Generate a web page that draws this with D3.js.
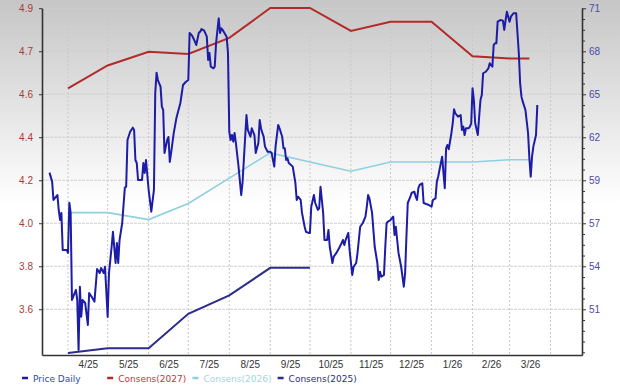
<!DOCTYPE html>
<meta charset="utf-8">
<script src="https://d3js.org/d3.v7.min.js"></script>
<style>
  body { margin: 0; }
  svg { display: block; font-family: "DejaVu Sans", Verdana, sans-serif; }
</style>
<body>
<div id="chart"></div>
<script>
// price, daily close (right axis)
var priceDaily = [
  ["2025-03-18", 59.89], ["2025-03-20", 59.29], ["2025-03-21", 58.07], ["2025-03-23", 58.29],
  ["2025-03-24", 58.40], ["2025-03-25", 57.40], ["2025-03-26", 56.74], ["2025-03-27", 57.21],
  ["2025-03-28", 54.75], ["2025-03-31", 54.75], ["2025-04-01", 54.55], ["2025-04-02", 57.89],
  ["2025-04-03", 57.21], ["2025-04-04", 51.42], ["2025-04-07", 52.09], ["2025-04-08", 51.42],
  ["2025-04-09", 48.10], ["2025-04-10", 52.30], ["2025-04-11", 50.31], ["2025-04-12", 51.42],
  ["2025-04-14", 51.22], ["2025-04-16", 49.76], ["2025-04-17", 51.88], ["2025-04-19", 51.62],
  ["2025-04-21", 51.31], ["2025-04-23", 53.48], ["2025-04-25", 53.21], ["2025-04-26", 53.55],
  ["2025-04-28", 53.21], ["2025-04-29", 53.63], ["2025-05-01", 50.29], ["2025-05-02", 53.21],
  ["2025-05-04", 54.96], ["2025-05-05", 55.96], ["2025-05-07", 53.88], ["2025-05-08", 55.21],
  ["2025-05-09", 53.88], ["2025-05-10", 55.41], ["2025-05-12", 56.54], ["2025-05-14", 58.89],
  ["2025-05-15", 58.95], ["2025-05-16", 62.06], ["2025-05-18", 62.61], ["2025-05-20", 62.88],
  ["2025-05-21", 62.73], ["2025-05-22", 60.73], ["2025-05-23", 60.53], ["2025-05-24", 59.40],
  ["2025-05-27", 59.40], ["2025-05-28", 60.53], ["2025-05-29", 59.87], ["2025-05-30", 60.73],
  ["2025-05-31", 59.73], ["2025-06-01", 58.74], ["2025-06-03", 57.29], ["2025-06-05", 58.74],
  ["2025-06-06", 65.19], ["2025-06-07", 66.54], ["2025-06-08", 66.05], ["2025-06-10", 65.61],
  ["2025-06-11", 64.28], ["2025-06-12", 64.06], ["2025-06-13", 61.20], ["2025-06-15", 62.06],
  ["2025-06-16", 62.26], ["2025-06-17", 60.60], ["2025-06-18", 61.20], ["2025-06-20", 62.53],
  ["2025-06-22", 63.52], ["2025-06-25", 64.52], ["2025-06-27", 65.72], ["2025-06-29", 65.92],
  ["2025-07-01", 66.05], ["2025-07-02", 69.18], ["2025-07-04", 68.98], ["2025-07-06", 68.60],
  ["2025-07-07", 68.38], ["2025-07-09", 69.20], ["2025-07-10", 69.26], ["2025-07-11", 69.44],
  ["2025-07-13", 69.33], ["2025-07-15", 68.93], ["2025-07-16", 67.38], ["2025-07-17", 67.85],
  ["2025-07-18", 66.94], ["2025-07-20", 66.83], ["2025-07-21", 66.94], ["2025-07-22", 68.51],
  ["2025-07-24", 70.15], ["2025-07-25", 69.18], ["2025-07-26", 69.49], ["2025-07-27", 69.38],
  ["2025-07-30", 68.93], ["2025-07-31", 67.85], ["2025-08-01", 62.61], ["2025-08-02", 62.06],
  ["2025-08-03", 62.39], ["2025-08-04", 61.95], ["2025-08-05", 62.53], ["2025-08-06", 61.86],
  ["2025-08-08", 60.29], ["2025-08-10", 58.40], ["2025-08-11", 59.20], ["2025-08-12", 60.73],
  ["2025-08-14", 63.72], ["2025-08-15", 62.73], ["2025-08-17", 62.28], ["2025-08-18", 62.84],
  ["2025-08-20", 62.39], ["2025-08-21", 61.20], ["2025-08-23", 61.86], ["2025-08-24", 63.39],
  ["2025-08-25", 62.84], ["2025-08-26", 62.53], ["2025-08-27", 62.28], ["2025-08-28", 61.62],
  ["2025-08-30", 61.28], ["2025-09-01", 61.28], ["2025-09-02", 61.20], ["2025-09-04", 60.29],
  ["2025-09-05", 61.62], ["2025-09-07", 63.06], ["2025-09-08", 62.84], ["2025-09-10", 62.28],
  ["2025-09-11", 61.51], ["2025-09-12", 61.51], ["2025-09-13", 60.73], ["2025-09-14", 60.84],
  ["2025-09-15", 60.53], ["2025-09-18", 60.29], ["2025-09-20", 59.20], ["2025-09-21", 58.07],
  ["2025-09-22", 58.29], ["2025-09-24", 58.07], ["2025-09-25", 57.21], ["2025-09-27", 56.29],
  ["2025-09-28", 55.96], ["2025-09-30", 55.88], ["2025-10-01", 55.88], ["2025-10-02", 57.62],
  ["2025-10-04", 58.40], ["2025-10-05", 57.87], ["2025-10-07", 57.41], ["2025-10-08", 57.52],
  ["2025-10-09", 58.95], ["2025-10-11", 57.21], ["2025-10-12", 55.41], ["2025-10-14", 55.41],
  ["2025-10-15", 56.08], ["2025-10-16", 54.96], ["2025-10-18", 53.88], ["2025-10-19", 54.30],
  ["2025-10-21", 54.55], ["2025-10-23", 54.86], ["2025-10-25", 55.21], ["2025-10-26", 55.41],
  ["2025-10-27", 55.08], ["2025-10-28", 55.41], ["2025-10-30", 55.88], ["2025-10-31", 54.75],
  ["2025-11-02", 53.08], ["2025-11-03", 53.63], ["2025-11-05", 53.88], ["2025-11-06", 54.55],
  ["2025-11-08", 56.29], ["2025-11-10", 56.54], ["2025-11-12", 56.96], ["2025-11-13", 57.62],
  ["2025-11-14", 58.40], ["2025-11-15", 58.18], ["2025-11-17", 57.21], ["2025-11-18", 56.08],
  ["2025-11-19", 54.96], ["2025-11-21", 53.88], ["2025-11-22", 52.75], ["2025-11-23", 53.30],
  ["2025-11-24", 52.97], ["2025-11-26", 53.08], ["2025-11-27", 54.96], ["2025-11-28", 56.54],
  ["2025-11-29", 56.63], ["2025-12-01", 56.74], ["2025-12-03", 56.96], ["2025-12-04", 55.74],
  ["2025-12-05", 56.29], ["2025-12-06", 55.41], ["2025-12-07", 54.55], ["2025-12-09", 53.63],
  ["2025-12-10", 52.97], ["2025-12-11", 52.30], ["2025-12-12", 53.21], ["2025-12-13", 55.66],
  ["2025-12-14", 57.87], ["2025-12-16", 58.29], ["2025-12-17", 58.56], ["2025-12-19", 58.62],
  ["2025-12-20", 58.29], ["2025-12-21", 58.07], ["2025-12-22", 58.85], ["2025-12-23", 59.07],
  ["2025-12-25", 59.18], ["2025-12-26", 57.87], ["2025-12-28", 57.80], ["2025-12-30", 57.74],
  ["2026-01-01", 57.62], ["2026-01-02", 58.07], ["2026-01-04", 58.18], ["2026-01-05", 59.29],
  ["2026-01-06", 59.62], ["2026-01-07", 60.07], ["2026-01-09", 60.95], ["2026-01-10", 59.87],
  ["2026-01-11", 58.85], ["2026-01-12", 61.51], ["2026-01-13", 61.73], ["2026-01-14", 61.44],
  ["2026-01-16", 62.51], ["2026-01-17", 63.17], ["2026-01-18", 64.10], ["2026-01-19", 63.84],
  ["2026-01-21", 63.61], ["2026-01-23", 63.72], ["2026-01-24", 62.73], ["2026-01-25", 62.95],
  ["2026-01-26", 62.39], ["2026-01-27", 62.84], ["2026-01-29", 62.84], ["2026-01-30", 62.95],
  ["2026-01-31", 63.17], ["2026-02-01", 65.50], ["2026-02-02", 64.72], ["2026-02-03", 63.17],
  ["2026-02-05", 62.39], ["2026-02-06", 63.61], ["2026-02-07", 64.72], ["2026-02-08", 65.05],
  ["2026-02-09", 66.50], ["2026-02-11", 66.60], ["2026-02-13", 66.83], ["2026-02-14", 67.16],
  ["2026-02-16", 66.94], ["2026-02-17", 68.38], ["2026-02-18", 68.49], ["2026-02-19", 68.49],
  ["2026-02-20", 69.93], ["2026-02-22", 70.04], ["2026-02-24", 70.00], ["2026-02-25", 69.38],
  ["2026-02-26", 70.04], ["2026-02-27", 70.59], ["2026-03-01", 69.93], ["2026-03-02", 70.26],
  ["2026-03-04", 70.49], ["2026-03-06", 70.49], ["2026-03-07", 69.16], ["2026-03-08", 67.83],
  ["2026-03-09", 65.83], ["2026-03-10", 64.94], ["2026-03-11", 64.61], ["2026-03-13", 64.06],
  ["2026-03-15", 62.51], ["2026-03-16", 60.84], ["2026-03-17", 59.62], ["2026-03-18", 60.95],
  ["2026-03-19", 61.62], ["2026-03-21", 62.39], ["2026-03-22", 64.39]
]

// consensus EPS estimates (left axis), monthly
var consDates = ["2025-04-01", "2025-05-01", "2025-06-01", "2025-07-01", "2025-08-01", "2025-09-01",
  "2025-10-01", "2025-11-01", "2025-12-01", "2026-01-01", "2026-02-01", "2026-03-01", "2026-03-16"]
var cons2027 = [4.58, 4.68, 4.74, 4.73, 4.80, 4.93, 4.93, 4.83, 4.87, 4.87, 4.72, 4.71, 4.71]
var cons2026 = [4.04, 4.04, 4.01, 4.08, 4.19, 4.30, 4.26, 4.22, 4.26, 4.26, 4.26, 4.27, 4.27]
var cons2025 = [3.43, 3.45, 3.45, 3.60, 3.68, 3.80, 3.80]

var leftTicks = [3.62, 3.807, 3.994, 4.181, 4.368, 4.555, 4.742, 4.929]
var rightTicks = [50.8, 53.66, 56.52, 59.38, 62.24, 65.1, 67.96, 70.82]

var legendItems = [
  { label: "Price Daily", color: "#1c1ca6", text: "#3048a8" },
  { label: "Consens(2027)", color: "#b32a2a", text: "#c03838" },
  { label: "Consens(2026)", color: "#8fd0e0", text: "#a6d4e2" },
  { label: "Consens(2025)", color: "#2c2c8e", text: "#2c2c8e" }
]

var W = 620, H = 386
var mLeft = 42, mRight = 582, mTop = 8, mBottom = 355
var parse = d3.timeParse("%Y-%m-%d")

var svg = d3.select("#chart").append("svg").attr("width", W).attr("height", H)

var grad = svg.append("defs").append("linearGradient")
  .attr("id", "bg").attr("x1", 0).attr("y1", 0).attr("x2", 0).attr("y2", 1)
grad.append("stop").attr("offset", "0%").attr("stop-color", "#c6c6c6")
grad.append("stop").attr("offset", "53%").attr("stop-color", "#ffffff")
svg.append("rect").attr("width", W).attr("height", H).attr("fill", "url(#bg)")

var x = d3.scaleTime()
  .domain([new Date(2025, 2, 12, 8), new Date(2026, 3, 24, 19)])
  .range([mLeft, mRight])
var yL = d3.scaleLinear().domain([3.421, 4.930]).range([mBottom, mTop])
var yR = d3.scaleLinear().domain([47.76, 70.84]).range([mBottom, mTop])

// grid
var monthStarts = d3.timeMonth.range(new Date(2025, 3, 1), new Date(2026, 3, 2))
svg.append("g").selectAll("line").data(leftTicks).enter().append("line")
  .attr("x1", mLeft).attr("x2", mRight)
  .attr("y1", function (d) { return yL(d) }).attr("y2", function (d) { return yL(d) })
  .attr("stroke", "#cfcfcf").attr("stroke-dasharray", "3,1")
svg.append("g").selectAll("line").data(monthStarts).enter().append("line")
  .attr("x1", function (d) { return x(d) }).attr("x2", function (d) { return x(d) })
  .attr("y1", mTop).attr("y2", mBottom)
  .attr("stroke", "#c8c8c8").attr("stroke-dasharray", "2,2")

// series
var lineOn = function (yScale) {
  return d3.line().x(function (d) { return x(d[0]) }).y(function (d) { return yScale(d[1]) })
}
function consSeries(vals) {
  return vals.map(function (v, i) { return [parse(consDates[i]), v] })
}

svg.append("path").datum(consSeries(cons2025))
  .attr("d", lineOn(yL)).attr("fill", "none").attr("stroke", "#2c2c8e").attr("stroke-width", 2)
svg.append("path").datum(consSeries(cons2026))
  .attr("d", lineOn(yL)).attr("fill", "none").attr("stroke", "#8fd0e0").attr("stroke-width", 1.6)
svg.append("path").datum(consSeries(cons2027))
  .attr("d", lineOn(yL)).attr("fill", "none").attr("stroke", "#b32a2a").attr("stroke-width", 2)
svg.append("path").datum(priceDaily.map(function (d) { return [parse(d[0]), d[1]] }))
  .attr("d", lineOn(yR)).attr("fill", "none").attr("stroke", "#1c1ca6")
  .attr("stroke-width", 2).attr("stroke-linejoin", "round")

// axes
var gl = svg.append("g").attr("transform", "translate(" + mLeft + ",0)")
  .call(d3.axisLeft(yL).tickValues(leftTicks).tickFormat(d3.format(".1f"))
    .tickSize(3).tickSizeOuter(0).tickPadding(6))
gl.selectAll("text").attr("fill", "#a83a3a").style("font-size", "10px")

var minor = []
rightTicks.forEach(function (t) {
  for (var k = 1; k < 4; k++) minor.push(t - k * 0.715)
})
minor.push(rightTicks[0] - 4 * 0.715)
svg.append("g").attr("transform", "translate(" + mRight + ",0)")
  .call(d3.axisRight(yR).tickValues(minor).tickFormat("").tickSize(3).tickSizeOuter(0))
  .select(".domain").remove()
var gr = svg.append("g").attr("transform", "translate(" + mRight + ",0)")
  .call(d3.axisRight(yR).tickValues(rightTicks).tickFormat(d3.format(".0f"))
    .tickSize(4).tickSizeOuter(0).tickPadding(3))
gr.selectAll("text").attr("fill", "#4a4aa8").style("font-size", "10px")

var mids = monthStarts.slice(0, 12).map(function (d) {
  var n = d3.timeMonth.offset(d, 1)
  return new Date((+d + +n) / 2)
})
var gb = svg.append("g").attr("transform", "translate(0," + mBottom + ")")
  .call(d3.axisBottom(x).tickValues(mids).tickFormat(d3.timeFormat("%-m/%y"))
    .tickSize(0).tickSizeOuter(0).tickPadding(6))
gb.selectAll("text").attr("fill", "#333").style("font-size", "10px")

svg.selectAll(".domain").attr("stroke", "#333").attr("stroke-width", 1.6)
svg.selectAll(".tick line").attr("stroke", "#333")

// legend
var lg = svg.append("g").selectAll("g").data(legendItems).enter().append("g")
  .attr("transform", function (d, i) { return "translate(" + (22 + i * 85.2) + ",378)" })
lg.append("line").attr("x1", 0).attr("x2", 6).attr("stroke", function (d) { return d.color })
  .attr("stroke-width", 2.5)
lg.append("text").attr("x", 11).attr("y", 3.5).style("font-size", "9px")
  .attr("fill", function (d) { return d.text }).text(function (d) { return d.label })
</script>
</body>
